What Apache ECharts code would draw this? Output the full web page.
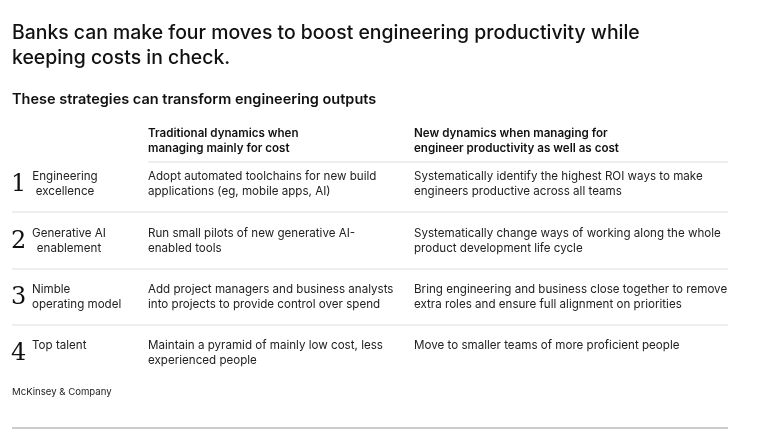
<!DOCTYPE html>
<html>
<head>
<meta charset="utf-8">
<script src="https://cdn.jsdelivr.net/npm/echarts@6/dist/echarts.min.js"></script>
<style>html,body{margin:0;padding:0;background:#fff}#main{width:768px;height:435px}</style>
</head>
<body>
<div id="main"></div>
<script>
const title = "Banks can make four moves to boost engineering productivity while\nkeeping costs in check.";
const subtitle = "These strategies can transform engineering outputs";
const colHeaders = [
  "Traditional dynamics when\nmanaging mainly for cost",
  "New dynamics when managing for\nengineer productivity as well as cost"
];
const rowNumbers = ["1", "2", "3", "4"];
const rowLabels = ["Engineering\nexcellence", "Generative AI\nenablement", "Nimble\noperating model", "Top talent"];
const traditional = [
  "Adopt automated toolchains for new build\napplications (eg, mobile apps, AI)",
  "Run small pilots of new generative AI-\nenabled tools",
  "Add project managers and business analysts\ninto projects to provide control over spend",
  "Maintain a pyramid of mainly low cost, less\nexperienced people"
];
const newDynamics = [
  "Systematically identify the highest ROI ways to make\nengineers productive across all teams",
  "Systematically change ways of working along the whole\nproduct development life cycle",
  "Bring engineering and business close together to remove\nextra roles and ensure full alignment on priorities",
  "Move to smaller teams of more proficient people"
];
const source = "McKinsey & Company";

const font = "Inter, 'Noto Sans', sans-serif";
const txt = (x, y, text, size, weight, extra) => ({
  type: "text", left: x, top: y,
  style: Object.assign({ text, font: `${weight} ${size}px ${font}`, fill: "#111", lineHeight: Math.round(size * 1.3) }, extra || {})
});
const hline = (x1, x2, y, color) => ({
  type: "line", shape: { x1, y1: y, x2, y2: y }, style: { stroke: color || "#ddd", lineWidth: 1 }
});

// row labels 1 and 2 are centred in their box, 3 and 4 left aligned
const labelCentre = [65, 69, null, null];
const rowTop = [169, 226, 282, 338];
const els = [
  txt(12, 21, title, 19.4, 500, { lineHeight: 25 }),
  txt(12, 90, subtitle, 14.5, 600),
  txt(148, 126, colHeaders[0], 11.6, 600, { lineHeight: 15 }),
  txt(414, 126, colHeaders[1], 11.6, 600, { lineHeight: 15 }),
  hline(148, 728, 162),
  txt(12, 386, source, 9.6, 400, { fill: "#222" }),
  hline(12, 728, 428, "#999")
];
rowNumbers.forEach((n, i) => {
  const y = rowTop[i];
  els.push(txt(11, y, n, 24, 400, { font: `500 24px 'DejaVu Serif', 'Liberation Serif', serif` }));
  const c = labelCentre[i];
  els.push({
    type: "text", x: c || 32, y: y,
    style: { text: rowLabels[i], font: `400 11.6px ${font}`, fill: "#222", lineHeight: 15, align: c ? "center" : "left", verticalAlign: "top" }
  });
  els.push(txt(148, y, traditional[i], 11.6, 400, { lineHeight: 15, fill: "#222" }));
  els.push(txt(414, y, newDynamics[i], 11.6, 400, { lineHeight: 15, fill: "#222" }));
  if (i < 3) els.push(hline(12, 728, y + 43));
});

const chart = echarts.init(document.getElementById("main"));
chart.setOption({ animation: false, graphic: { elements: els } });
</script>
</body>
</html>
